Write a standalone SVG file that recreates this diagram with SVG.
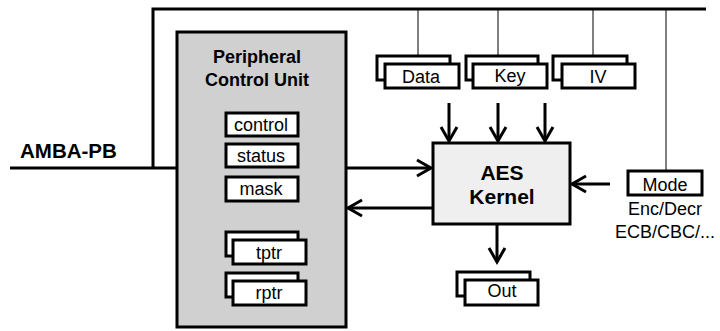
<svg xmlns="http://www.w3.org/2000/svg" width="720" height="331" viewBox="0 0 720 331">
<style>
.t{font-family:"Liberation Sans",Arial,sans-serif;font-size:18px;fill:#000;text-anchor:middle}
.b{font-weight:bold}
.reg{fill:#fff;stroke:#000;stroke-width:3}
.w{stroke:#000;stroke-width:3;fill:none}
.thin{stroke:#000;stroke-width:1;fill:none}
.ah{stroke:#000;stroke-width:3;fill:none;stroke-linecap:butt}
</style>
<rect width="720" height="331" fill="#fff"/>
<g id="connectors">
  <polyline class="w" points="10,168 177,168"/>
  <polyline class="w" points="153,168 153,9 706,9"/>
  <line class="thin" x1="418" y1="9" x2="418" y2="56"/>
  <line class="thin" x1="498" y1="9" x2="498" y2="56"/>
  <line class="thin" x1="593" y1="9" x2="593" y2="56"/>
  <line class="thin" x1="666" y1="9" x2="666" y2="172"/>
  <line class="w" x1="449" y1="103" x2="449" y2="141"/>
  <polyline class="ah" points="441,127 449,141 457,127"/>
  <line class="w" x1="498" y1="103" x2="498" y2="141"/>
  <polyline class="ah" points="490,127 498,141 506,127"/>
  <line class="w" x1="545" y1="103" x2="545" y2="141"/>
  <polyline class="ah" points="537,127 545,141 553,127"/>
  <line class="w" x1="346" y1="168" x2="431" y2="168"/>
  <polyline class="ah" points="417,160 431,168 417,176"/>
  <line class="w" x1="433" y1="208" x2="348" y2="208"/>
  <polyline class="ah" points="362,200 348,208 362,216"/>
  <line class="w" x1="610" y1="184" x2="572" y2="184"/>
  <polyline class="ah" points="586,176 572,184 586,192"/>
  <line class="w" x1="497" y1="224" x2="497" y2="262"/>
  <polyline class="ah" points="489,248 497,262 505,248"/>
</g>
<text class="t b" x="20" y="158" style="text-anchor:start;font-size:20.5px">AMBA-PB</text>
<g id="pcu">
  <rect x="177" y="32" width="169" height="295" fill="#d0d0d0" stroke="#000" stroke-width="3"/>
  <text class="t b" x="257" y="63">Peripheral</text>
  <text class="t b" x="257" y="86">Control Unit</text>
</g>
<g id="control"><rect class="reg" x="226" y="113" width="72" height="23"/><text class="t" x="261" y="131">control</text></g>
<g id="status"><rect class="reg" x="226" y="144" width="72" height="23"/><text class="t" x="261" y="162">status</text></g>
<g id="mask"><rect class="reg" x="226" y="177" width="72" height="24"/><text class="t" x="261" y="195">mask</text></g>
<g id="tptr"><rect class="reg" x="226" y="232" width="72" height="24"/><rect class="reg" x="233" y="240" width="73" height="24"/><text class="t" x="269" y="259">tptr</text></g>
<g id="rptr"><rect class="reg" x="226" y="273" width="72" height="24"/><rect class="reg" x="233" y="281" width="73" height="24"/><text class="t" x="269" y="299">rptr</text></g>
<g id="data"><rect class="reg" x="377" y="56" width="73" height="24"/><rect class="reg" x="385" y="64" width="74" height="24"/><text class="t" x="421" y="83">Data</text></g>
<g id="key"><rect class="reg" x="466" y="56" width="72" height="24"/><rect class="reg" x="473" y="64" width="74" height="24"/><text class="t" x="510" y="82">Key</text></g>
<g id="iv"><rect class="reg" x="553" y="56" width="74" height="24"/><rect class="reg" x="562" y="64" width="73" height="24"/><text class="t" x="598" y="83">IV</text></g>
<g id="aes">
  <rect x="433" y="143" width="137" height="81" fill="#efefef" stroke="#000" stroke-width="3"/>
  <text class="t b" x="502" y="180" style="font-size:21px">AES</text>
  <text class="t b" x="502" y="204" style="font-size:21px">Kernel</text>
</g>
<g id="mode">
  <rect class="reg" x="628" y="171" width="74" height="24"/>
  <text class="t" x="665" y="191">Mode</text>
  <text class="t" x="665" y="215">Enc/Decr</text>
  <text class="t" x="665" y="238">ECB/CBC/...</text>
</g>
<g id="out"><rect class="reg" x="457" y="272" width="73" height="24"/><rect class="reg" x="465" y="280" width="73" height="25"/><text class="t" x="502" y="297">Out</text></g>
</svg>
